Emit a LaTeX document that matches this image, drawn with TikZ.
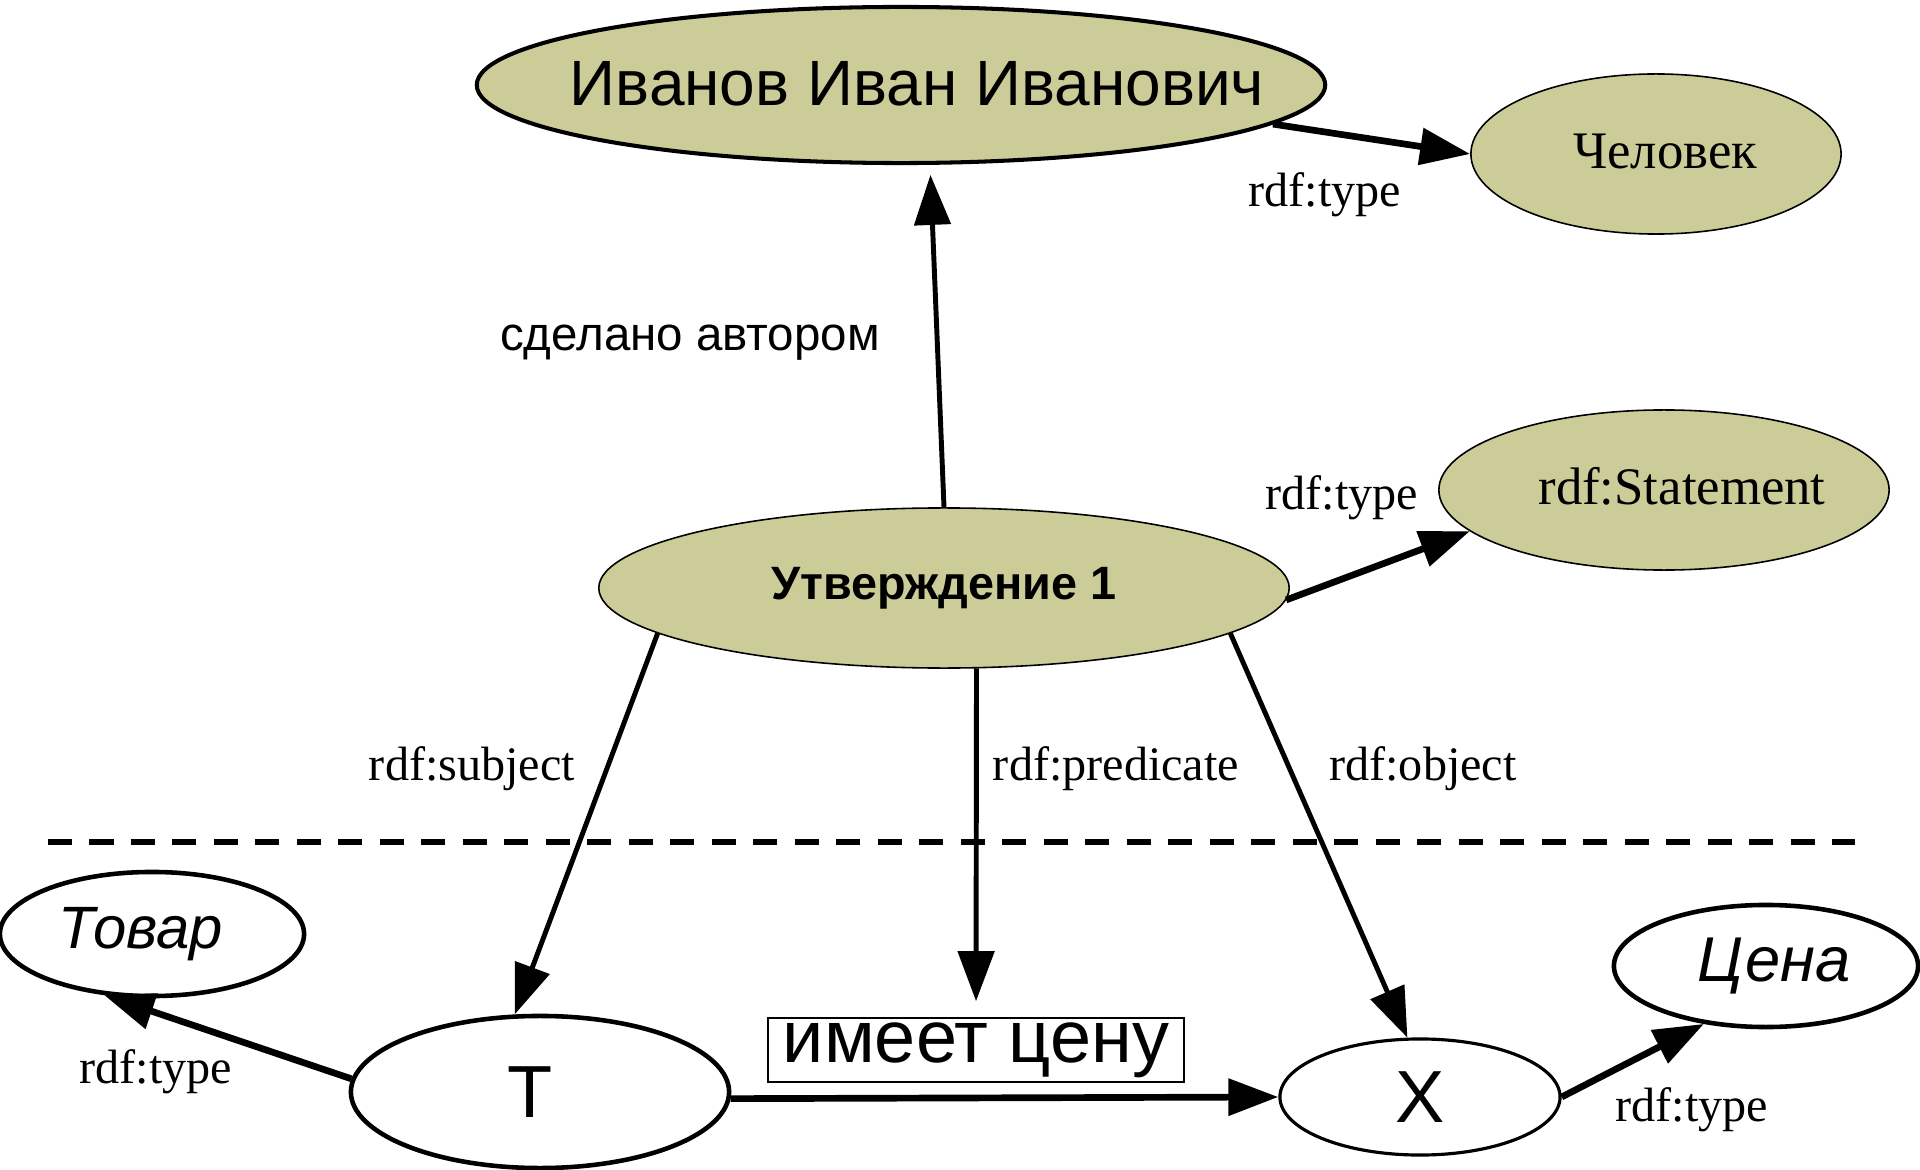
\documentclass[tikz,border=0pt]{standalone}
\usepackage{fontspec}
\setmainfont{Liberation Serif}
\setsansfont{Liberation Sans}
\usetikzlibrary{positioning,arrows.meta,shapes.geometric}
\definecolor{nodefill}{RGB}{204,204,153}
\newcommand{\inell}[2][0pt]{\makebox[0pt]{\hspace*{#1}#2}}

\begin{document}
\begin{tikzpicture}[x=0.01cm, y=-0.01cm,
  res/.style={ellipse, draw, fill=nodefill, line width=0.45pt, inner sep=0pt},
  lit/.style={ellipse, draw, fill=white, line width=1.3pt, inner sep=0pt},
  lbl/.style={font=\fontsize{13.7}{16}\selectfont, inner sep=1pt},
  arr/.style={-{Triangle[length=5mm, width=3.6mm]}, line width=1.4pt},
  arrb/.style={arr, line width=1.9pt}]
\useasboundingbox (0,0) rectangle (1920,1170);
% resources above the line
\node[res, line width=1.15pt, minimum width=8.48cm, minimum height=1.56cm,
      font=\sffamily\fontsize{18.2}{20}\selectfont] (ivanov) at (901,85)
  {\inell[0.32cm]{\raisebox{0.03cm}{Иванов Иван Иванович}}};
\node[res, minimum width=3.7cm, minimum height=1.6cm,
      font=\fontsize{15}{17}\selectfont] (chel) at (1656,154)
  {\inell[0.18cm]{\raisebox{0.05cm}{Человек}}};
\node[res, minimum width=4.5cm, minimum height=1.6cm,
      font=\fontsize{15}{17}\selectfont] (stmt) at (1664,490)
  {\inell[0.36cm]{\raisebox{0.08cm}{rdf:Statement}}};
\node[res, minimum width=6.9cm, minimum height=1.6cm,
      font=\sffamily\bfseries\fontsize{13.3}{15}\selectfont] (utv) at (944,588)
  {\inell{Утверждение 1}};
% triple below the line
\node[lit, minimum width=3.04cm, minimum height=1.24cm,
      font=\sffamily\itshape\fontsize{17}{19}\selectfont] (tovar) at (152,934) {\inell[-0.22cm]{Товар}};
\node[lit, minimum width=3.78cm, minimum height=1.52cm,
      font=\sffamily\fontsize{21}{23}\selectfont] (T) at (540,1092) {\inell[-0.2cm]{T}};
\node[lit, line width=0.9pt, minimum width=2.8cm, minimum height=1.16cm,
      font=\sffamily\fontsize{21}{23}\selectfont] (X) at (1420,1097) {\inell{X}};
\node[lit, minimum width=3.04cm, minimum height=1.22cm,
      font=\sffamily\itshape\fontsize{18}{20}\selectfont] (cena) at (1766,966) {\inell[0.16cm]{Цена}};
\node[draw, line width=0.45pt, minimum width=4.16cm, minimum height=0.64cm, inner sep=0pt,
      font=\sffamily\fontsize{21}{23}\selectfont] (pred) at (976,1050) {имеет цену};
% edge labels
\node[lbl, font=\sffamily\fontsize{13.5}{16}\selectfont] (author) at (690,343) {сделано автором};
\node[lbl] (typechel) at (1325,195) {rdf:type};
\node[lbl] (typestmt) at (1342,498) {rdf:type};
\node[lbl] (subj) at (472,769) {rdf:subject};
\node[lbl] (predl) at (1116,769) {rdf:predicate};
\node[lbl] (obj) at (1423,769) {rdf:object};
\node[lbl] (typetovar) at (156,1072) {rdf:type};
\node[lbl] (typecena) at (1692,1110) {rdf:type};

\draw[line width=1.5pt, dash pattern=on 0.24cm off 0.1747cm] (48,842) -- (1855,842);

\draw[arr, shorten >=0.1cm] (utv.north) -- (ivanov.-70);
\draw[arrb] (ivanov.-6) -- (chel.west);
\draw[arrb] (utv.-2) -- (stmt.192);
\draw[arr] (utv.189) -- (T.108);
\draw[arr, shorten >=0.16cm] (utv.-68) -- (pred.north);
\draw[arr] (utv.-9) -- (X.102);
\draw[arrb] (T.176) -- (tovar.232);
\draw[arrb] (T.-2) -- (X.west);
\draw[arrb] (X.east) -- (cena.223);
\end{tikzpicture}
\end{document}
